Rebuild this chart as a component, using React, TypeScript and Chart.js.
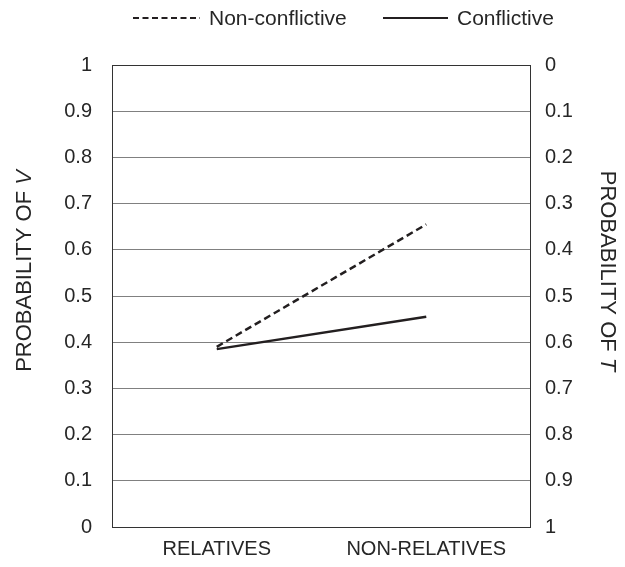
import React, { useEffect, useRef } from "react";
import { Chart, registerables } from "chart.js";

Chart.register(...registerables);

const categories = ["RELATIVES", "NON-RELATIVES"];
const seriesNames = ["Non-conflictive", "Conflictive"];
const nonConflictive = [0.39, 0.655];
const conflictive = [0.385, 0.455];
const leftTitle = ["PROBABILITY OF ", "V"];
const rightTitle = ["PROBABILITY OF ", "T"];

const FONT = "'Liberation Sans', Arial, sans-serif";
const INK = "#231f20";
const TEXT = "#262626";

const fmt = (v: number) => String(Number(Number(v).toFixed(1)));

const decorPlugin = {
  id: "decor",
  afterDraw(chart: any) {
    const { ctx, chartArea } = chart;
    const { left, right, top, bottom } = chartArea;
    ctx.save();
    // frame
    ctx.strokeStyle = "#333";
    ctx.lineWidth = 1;
    ctx.setLineDash([]);
    ctx.strokeRect(left + 0.5, top + 0.5, right - left - 1, bottom - top);

    const drawMixed = (parts: string[], size: number) => {
      ctx.font = `${size}px ${FONT}`;
      const w0 = ctx.measureText(parts[0]).width;
      ctx.font = `italic ${size}px ${FONT}`;
      const w1 = ctx.measureText(parts[1]).width;
      const total = w0 + w1;
      ctx.textBaseline = "middle";
      ctx.textAlign = "left";
      ctx.font = `${size}px ${FONT}`;
      ctx.fillText(parts[0], -total / 2, 0);
      ctx.font = `italic ${size}px ${FONT}`;
      ctx.fillText(parts[1], -total / 2 + w0, 0);
    };

    ctx.fillStyle = TEXT;
    const midY = (top + bottom) / 2 - 25;
    // left title
    ctx.save();
    ctx.translate(17, midY);
    ctx.rotate(-Math.PI / 2);
    drawMixed(leftTitle, 22);
    ctx.restore();
    // right title
    ctx.save();
    ctx.translate(599, midY);
    ctx.rotate(Math.PI / 2);
    drawMixed(rightTitle, 22);
    ctx.restore();

    // legend
    const ly = 10;
    const items = [
      { x0: 125, x1: 192, dash: [6, 3.5], text: seriesNames[0] },
      { x0: 375, x1: 440, dash: [], text: seriesNames[1] },
    ];
    items.forEach((it) => {
      ctx.strokeStyle = INK;
      ctx.lineWidth = 2;
      ctx.setLineDash(it.dash);
      ctx.beginPath();
      ctx.moveTo(it.x0, ly);
      ctx.lineTo(it.x1, ly);
      ctx.stroke();
      ctx.setLineDash([]);
      ctx.font = `21px ${FONT}`;
      ctx.textAlign = "left";
      ctx.textBaseline = "middle";
      ctx.fillStyle = TEXT;
      ctx.fillText(it.text, it.x1 + 9, ly + 1);
    });
    ctx.restore();
  },
};

export default function App() {
  const ref = useRef<HTMLCanvasElement | null>(null);
  useEffect(() => {
    if (!ref.current) return;
    const chart = new Chart(ref.current, {
      type: "line",
      data: {
        labels: categories,
        datasets: [
          {
            label: seriesNames[0],
            data: nonConflictive,
            borderColor: INK,
            borderWidth: 2.5,
            borderDash: [7, 4],
            pointRadius: 0,
            fill: false,
            yAxisID: "y",
          },
          {
            label: seriesNames[1],
            data: conflictive,
            borderColor: INK,
            borderWidth: 2.5,
            pointRadius: 0,
            fill: false,
            yAxisID: "y",
          },
        ],
      },
      options: {
        animation: false,
        responsive: true,
        maintainAspectRatio: false,
        layout: { padding: { top: 57, left: 0, right: 0, bottom: 0 } },
        plugins: {
          legend: { display: false },
          tooltip: { enabled: false },
        },
        scales: {
          x: {
            offset: true,
            grid: { display: false, drawTicks: false },
            border: { display: false },
            ticks: {
              color: TEXT,
              font: { family: FONT, size: 20 },
              padding: 10,
            },
            afterFit: (s: any) => {
              s.height = 30;
            },
          },
          y: {
            position: "left",
            min: 0,
            max: 1,
            grid: { color: "#808080", lineWidth: 1, drawTicks: false },
            border: { display: false },
            ticks: {
              stepSize: 0.1,
              color: TEXT,
              font: { family: FONT, size: 20 },
              padding: 20,
              callback: (v: any) => fmt(v),
            },
            afterFit: (s: any) => {
              s.width = 104;
            },
          },
          y1: {
            position: "right",
            reverse: true,
            min: 0,
            max: 1,
            grid: { display: false, drawTicks: false },
            border: { display: false },
            ticks: {
              stepSize: 0.1,
              color: TEXT,
              font: { family: FONT, size: 20 },
              padding: 14,
              callback: (v: any) => fmt(v),
            },
            afterFit: (s: any) => {
              s.width = 86;
            },
          },
        },
      },
      plugins: [decorPlugin],
    });
    return () => chart.destroy();
  }, []);
  return (
    <div style={{ width: 609, height: 551, position: "relative" }}>
      <canvas ref={ref} />
    </div>
  );
}
